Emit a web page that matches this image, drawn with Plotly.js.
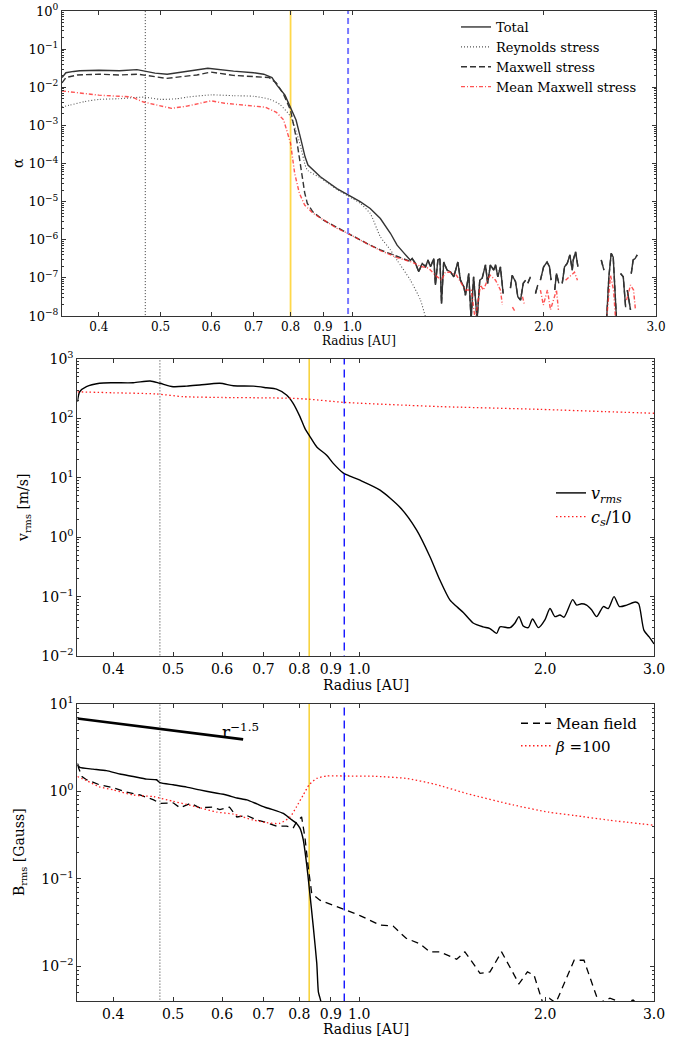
<!DOCTYPE html>
<html>
<head>
<meta charset="utf-8">
<script src="https://cdn.plot.ly/plotly-3.0.1.min.js"></script>
<style>
  html, body { margin: 0; padding: 0; background: #fff; }
  #chart { width: 696px; height: 1041px; }
</style>
</head>
<body>
<div id="chart"></div>
<script>
// ---------------- Panel 1: stress-to-pressure ratio alpha ----------------
const alphaTotalR = [0.350,0.352,0.355,0.365,0.373,0.400,0.431,0.459,0.473,0.490,0.512,0.542,0.565,0.593,0.615,0.651,0.700,0.726,0.748,0.762,0.784,0.800,0.816,0.831,0.843,0.852,0.891,0.946,0.985,1.029,1.067,1.107,1.148,1.176,1.204,1.234];
const alphaTotal  = [0.018,0.0205,0.024,0.026,0.027,0.0279,0.027,0.029,0.0258,0.0235,0.022,0.0258,0.028,0.0315,0.029,0.0265,0.024,0.022,0.018,0.0112,0.0062,0.00306,0.00138,4.1e-4,1.5e-4,9.1e-5,4.5e-5,2.2e-5,1.48e-5,1.0e-5,6.6e-6,3.6e-6,1.48e-6,7.2e-7,4.6e-7,2.9e-7];

// turbulent outer zone (gaps where the stress is not positive)
const alphaNoiseR = [1.242,1.257,1.272,1.288,1.304,1.315,1.327,1.343,1.351,1.363,1.373,1.381,1.392,1.409,1.426,1.444,1.465,1.479,1.497,1.506,1.524,1.537,1.551,1.571,1.586,1.600,1.619,1.632,1.648,1.668,1.679,1.693,1.709,1.726,1.750,1.772,1.783,1.805,1.820,1.838,1.856,1.872,1.880,1.887,1.905,1.920,1.940,1.956,1.965,1.975,1.998,2.023,2.041,2.053,2.065,2.080,2.093,2.111,2.125,2.137,2.155,2.176,2.197,2.216,2.224,2.243,2.262,2.360,2.461,2.485,2.500,2.509,2.530,2.551,2.570,2.591,2.601,2.620,2.639,2.665,2.688,2.695,2.704,2.720,2.736,2.740,2.743,2.762,2.782,2.803];
const alphaNoise  = [3.2e-7,2.4e-7,1.45e-7,2.4e-7,1.95e-7,2.95e-7,1.95e-7,3.2e-7,6.5e-8,2.95e-7,3.2e-7,2.1e-8,2.6e-7,1.6e-7,1.45e-7,1.07e-7,2.6e-7,8.7e-8,5.9e-8,3.5e-8,1.3e-7,8e-9,1.07e-7,8e-9,8.7e-8,9.8e-8,2.2e-7,7.2e-8,2.2e-7,1.6e-7,2.2e-7,1.07e-7,1.95e-7,3.9e-8,null,5.4e-8,1.17e-7,7.9e-8,3.2e-8,2.6e-8,7.2e-8,8.7e-8,null,7.2e-8,1.07e-7,null,3.9e-8,6.5e-8,null,8.7e-8,1.95e-7,2.6e-7,1.95e-7,8.7e-8,null,4.8e-8,1.3e-7,7.2e-8,null,7.2e-8,1.95e-7,2.4e-7,4e-7,1.6e-7,2.95e-7,4.8e-7,1.95e-7,null,2.95e-7,1.6e-7,null,8e-9,1.07e-7,4.4e-7,3.5e-7,2.6e-8,8e-9,null,1.3e-7,1.07e-7,1.7e-8,null,4.8e-8,2.6e-8,1.45e-8,null,1.3e-7,2.95e-7,3.2e-7,4e-7];

const alphaReynoldsR = [0.350,0.360,0.380,0.400,0.430,0.470,0.500,0.530,0.550,0.600,0.650,0.700,0.743,0.770,0.800,0.827,0.845,0.852,0.891,0.946,0.985,1.029,1.067,1.107,1.148,1.176,1.234,1.280,1.303,1.320];
const alphaReynolds  = [0.0030,0.0034,0.0042,0.0048,0.0050,0.0055,0.0048,0.0050,0.0055,0.0063,0.0060,0.0058,0.0048,0.0035,0.0017,3.4e-4,8.2e-5,6.5e-5,4.2e-5,2.1e-5,1.4e-5,9e-6,4.9e-6,1.2e-6,5.4e-7,2.9e-7,8.7e-8,2.6e-8,9.5e-9,5e-9];

const alphaMaxwellR = [0.350,0.355,0.370,0.400,0.430,0.460,0.490,0.510,0.540,0.570,0.600,0.630,0.650,0.700,0.740,0.760,0.780,0.800,0.818,0.830,0.842,0.850,0.867,0.900,0.946,0.985,1.067,1.107,1.176,1.234];
const alphaMaxwell  = [0.013,0.018,0.021,0.022,0.021,0.022,0.019,0.017,0.019,0.021,0.025,0.022,0.0205,0.019,0.018,0.013,0.0065,0.0025,4.1e-4,8.2e-5,1.7e-5,9e-6,5.4e-6,3.3e-6,2.1e-6,1.48e-6,7.2e-7,5.4e-7,3.6e-7,2.7e-7];

const alphaMeanR = [0.350,0.370,0.400,0.430,0.450,0.470,0.490,0.520,0.550,0.600,0.630,0.670,0.730,0.760,0.780,0.800,0.812,0.826,0.842,0.867,0.900,0.946,0.985,1.067,1.107,1.176,1.234,1.241,1.280,1.318,1.351,1.381,1.400,1.426,1.458,1.479,1.506,1.538,1.560,1.590,1.607,1.635,1.648,1.679,1.709,1.721,1.760,1.785,1.805,1.830,1.851,1.865,1.900,1.975,1.996,2.026,2.048,2.070,2.093,2.108,2.140,2.163,2.202,2.234,2.258,2.400,2.509,2.545,2.573,2.592,2.650,2.697,2.736,2.766,2.785];
const alphaMean  = [0.0080,0.0072,0.0062,0.0058,0.0056,0.0041,0.0035,0.0028,0.0032,0.0044,0.0038,0.0034,0.0030,0.0022,0.0014,3.4e-4,5.5e-5,1.65e-5,8.1e-6,5e-6,3.3e-6,2.0e-6,1.45e-6,7e-7,5.2e-7,3.4e-7,2.6e-7,2.6e-7,2.0e-7,1.8e-7,1.17e-7,8.7e-8,1.4e-7,1.4e-7,1.17e-7,7.8e-8,4.8e-8,4.8e-8,8e-9,6.5e-8,4.8e-8,9.8e-8,1.17e-7,8.7e-8,4.8e-8,1.95e-8,null,1.7e-8,1.26e-8,null,3.2e-8,1.95e-8,null,4.8e-8,1.95e-8,4.8e-8,1.45e-8,2.6e-8,4.8e-8,1.45e-8,null,8.7e-8,1.17e-7,1.4e-7,8.7e-8,null,8e-9,1.17e-7,4.8e-8,8e-9,null,2.6e-8,6.5e-8,4.8e-8,1.45e-8];

// ---------------- Panel 2: rms velocity and sound speed ----------------
const vR   = [0.350,0.353,0.362,0.380,0.400,0.431,0.459,0.476,0.500,0.526,0.552,0.595,0.626,0.674,0.708,0.735,0.763,0.782,0.802,0.817,0.833,0.854,0.886,0.908,0.943,0.966,1.003,1.081,1.164,1.239,1.302,1.351,1.403,1.438,1.474,1.529,1.586,1.628,1.669,1.690,1.754,1.787,1.814,1.843,1.878,1.908,1.950,1.999,2.036,2.074,2.113,2.145,2.216,2.249,2.291,2.334,2.377,2.423,2.484,2.530,2.585,2.637,2.710,2.798,2.833,2.890,2.946,3.000];
const vRms = [190,281,342,390,398,398,427,390,342,350,365,390,355,350,328,310,247,179,107,68,49,33,24,17.5,12,10.7,9.1,6.2,3.2,1.32,0.47,0.19,0.087,0.068,0.054,0.036,0.031,0.029,0.024,0.031,0.030,0.036,0.046,0.032,0.030,0.042,0.030,0.041,0.063,0.046,0.049,0.045,0.089,0.072,0.076,0.072,0.060,0.046,0.068,0.063,0.100,0.068,0.072,0.081,0.076,0.027,0.021,0.016];
const csR  = [0.350,0.400,0.470,0.520,0.600,0.700,0.780,0.830,0.946,1.200,1.351,1.962,2.500,3.000];
const cs10 = [280,270,258,232,225,222,218,210,186,166,158,142,130,122];

// ---------------- Panel 3: rms field, mean field and beta=100 field ----------------
const bR   = [0.350,0.353,0.371,0.390,0.410,0.431,0.453,0.470,0.476,0.500,0.526,0.552,0.580,0.610,0.634,0.658,0.683,0.708,0.735,0.754,0.773,0.792,0.802,0.812,0.822,0.830,0.843,0.854,0.859,0.866,0.874];
const bRms = [2.09,1.88,1.80,1.73,1.58,1.48,1.38,1.36,1.26,1.19,1.12,1.04,0.97,0.91,0.84,0.80,0.72,0.65,0.60,0.56,0.49,0.43,0.38,0.28,0.15,0.081,0.028,0.0107,0.0051,0.0041,0.003];
const meanR = [0.350,0.356,0.362,0.380,0.400,0.420,0.442,0.465,0.476,0.500,0.513,0.534,0.552,0.580,0.595,0.617,0.634,0.658,0.683,0.708,0.735,0.763,0.782,0.792,0.807,0.817,0.827,0.838,0.864,0.908,0.946,1.003,1.081,1.135,1.190,1.254,1.302,1.351,1.438,1.483,1.569,1.628,1.700,1.814,1.872,1.919,1.982,2.031,2.081,2.228,2.311,2.443,2.546,2.676,2.775,2.850];
const meanB = [2.0,1.48,1.36,1.19,1.10,0.98,0.91,0.80,0.73,0.74,0.65,0.73,0.65,0.66,0.62,0.66,0.51,0.53,0.47,0.44,0.40,0.40,0.38,0.45,0.51,0.30,0.138,0.068,0.057,0.050,0.044,0.038,0.0295,0.0288,0.021,0.018,0.0146,0.0146,0.012,0.0146,0.0083,0.0086,0.0146,0.0063,0.0086,0.0079,0.0038,0.0043,0.0038,0.0117,0.0117,0.0038,0.0043,0.0038,0.0041,0.0035];
const betaR = [0.350,0.362,0.380,0.400,0.431,0.465,0.500,0.526,0.552,0.588,0.626,0.674,0.708,0.743,0.773,0.792,0.812,0.830,0.854,0.886,0.946,1.056,1.190,1.325,1.493,1.775,2.025,2.228,2.530,3.000];
const betaB = [1.48,1.33,1.13,1.04,0.91,0.87,0.77,0.71,0.65,0.58,0.55,0.47,0.44,0.43,0.51,0.67,0.91,1.19,1.41,1.50,1.50,1.49,1.41,1.21,0.946,0.70,0.58,0.53,0.47,0.41];
const slopeR = [0.350,0.649];
const slopeB = [6.84,3.94];

// marked radii: dotted, yellow and blue reference lines
const marksTop = {dotted: 0.473, yellow: 0.800, blue: 0.985};
const marksLow = {dotted: 0.476, yellow: 0.830, blue: 0.946};

// axis tick labels
const xTickVals = [0.4,0.5,0.6,0.7,0.8,0.9,1.0,2.0,3.0];
const xTickText = ['0.4','0.5','0.6','0.7','0.8','0.9','1.0','2.0','3.0'];
const alphaExps = [-8,-7,-6,-5,-4,-3,-2,-1,0];
const vExps = [-2,-1,0,1,2,3];
const bExps = [-2,-1,0,1];

// ---------------- layout helpers ----------------
const W = 696, H = 1041;
const FONT = 'DejaVu Serif, serif';
const px = v => v / W;
const py = v => 1 - v / H;
const powText = e => '10<sup>' + (e < 0 ? '\u2212' + (-e) : e) + '</sup>';
function minorVals(lo, hi) {
  const out = [];
  for (let e = lo; e < hi; e++) for (let m = 2; m <= 9; m++) out.push(m * Math.pow(10, e));
  return out;
}
const xRange = [Math.log10(0.35), Math.log10(3.0)];

function xAxis(dom, anchor, size) {
  return {
    type: 'log', domain: dom, anchor: anchor, range: xRange,
    tickmode: 'array', tickvals: xTickVals, ticktext: xTickText,
    ticks: 'inside', ticklen: 4, tickcolor: '#333', tickwidth: 1,
    showline: true, linecolor: '#333', linewidth: 1, mirror: 'allticks',
    showgrid: false, zeroline: false,
    tickfont: {family: FONT, size: size, color: '#000'}
  };
}
function yAxis(dom, anchor, exps, range, size) {
  return {
    type: 'log', domain: dom, anchor: anchor, range: range,
    tickmode: 'array', tickvals: exps.map(e => Math.pow(10, e)), ticktext: exps.map(powText),
    ticks: 'inside', ticklen: 4, tickcolor: '#333', tickwidth: 1,
    minor: {tickmode: 'array', tickvals: minorVals(exps[0] - 1, exps[exps.length - 1] + 1), ticks: 'inside', ticklen: 2, tickcolor: '#333'},
    showline: true, linecolor: '#333', linewidth: 1, mirror: 'allticks',
    showgrid: false, zeroline: false,
    tickfont: {family: FONT, size: size, color: '#000'}
  };
}
// a vertical marker line spanning the whole panel height
function vline(r, xa, ya, yspan, color, width, dash) {
  return {x: [r, r], y: yspan, xaxis: xa, yaxis: ya, mode: 'lines', showlegend: false, hoverinfo: 'skip',
          line: {color: color, width: width, dash: dash}};
}
const span1 = [1e-9, 10], span2 = [1e-3, 1e4], span3 = [1e-3, 100];

const traces = [
  vline(marksTop.dotted, 'x', 'y', span1, '#333', 1, '1px,2px'),
  vline(marksTop.yellow, 'x', 'y', span1, '#ffd84a', 1.8, 'solid'),
  vline(marksLow.dotted, 'x2', 'y2', span2, '#333', 1, '1px,2px'),
  vline(marksLow.yellow, 'x2', 'y2', span2, '#f5c400', 1.2, 'solid'),
  vline(marksLow.dotted, 'x3', 'y3', span3, '#333', 1, '1px,2px'),
  vline(marksLow.yellow, 'x3', 'y3', span3, '#f5c400', 1.2, 'solid'),
  // panel 1
  {x: alphaTotalR.concat(alphaNoiseR), y: alphaTotal.concat(alphaNoise), name: 'Total', legend: 'legend',
   mode: 'lines', line: {color: '#333333', width: 1.4}, xaxis: 'x', yaxis: 'y', connectgaps: false},
  {x: alphaReynoldsR, y: alphaReynolds, name: 'Reynolds stress', legend: 'legend',
   mode: 'lines', line: {color: '#555555', width: 1.1, dash: '1px,2px', shape: 'spline', smoothing: 0.6}, xaxis: 'x', yaxis: 'y'},
  {x: alphaMaxwellR.concat(alphaNoiseR), y: alphaMaxwell.concat(alphaNoise), name: 'Maxwell stress', legend: 'legend',
   mode: 'lines', line: {color: '#333333', width: 1.4, dash: '6px,3px'}, xaxis: 'x', yaxis: 'y', connectgaps: false},
  {x: alphaMeanR, y: alphaMean, name: 'Mean Maxwell stress', legend: 'legend',
   mode: 'lines', line: {color: 'rgba(255,40,40,0.8)', width: 1.4, dash: '4px,2px,1px,2px'}, xaxis: 'x', yaxis: 'y', connectgaps: false},
  // panel 2
  {x: vR, y: vRms, name: '<i>v</i><sub><i>rms</i></sub>', legend: 'legend2',
   mode: 'lines', line: {color: '#000', width: 1.4, shape: 'spline', smoothing: 0.7}, xaxis: 'x2', yaxis: 'y2'},
  {x: csR, y: cs10, name: '<i>c</i><sub><i>s</i></sub>/10', legend: 'legend2',
   mode: 'lines', line: {color: '#ff2020', width: 1.3, dash: '1.5px,2.5px', shape: 'spline', smoothing: 0.6}, xaxis: 'x2', yaxis: 'y2'},
  // panel 3
  {x: slopeR, y: slopeB, showlegend: false,
   mode: 'lines', line: {color: '#000', width: 2.6}, xaxis: 'x3', yaxis: 'y3'},
  {x: bR, y: bRms, showlegend: false,
   mode: 'lines', line: {color: '#000', width: 1.4, shape: 'spline', smoothing: 0.5}, xaxis: 'x3', yaxis: 'y3'},
  {x: meanR, y: meanB, name: 'Mean field', legend: 'legend3',
   mode: 'lines', line: {color: '#000', width: 1.3, dash: '7px,5px'}, xaxis: 'x3', yaxis: 'y3'},
  {x: betaR, y: betaB, name: '<i>β</i> =100', legend: 'legend3',
   mode: 'lines', line: {color: '#ff2020', width: 1.3, dash: '1.5px,2.5px', shape: 'spline', smoothing: 0.6}, xaxis: 'x3', yaxis: 'y3'},
  // blue markers drawn over the curves
  vline(marksTop.blue, 'x', 'y', span1, '#7878ff', 2, '6px,4px'),
  vline(marksLow.blue, 'x2', 'y2', span2, '#0000ff', 1.3, '8px,5px'),
  vline(marksLow.blue, 'x3', 'y3', span3, '#0000ff', 1.3, '8px,5px')
];

function label(text, x, y, size, angle) {
  return {text: text, xref: 'paper', yref: 'paper', x: px(x), y: py(y), xanchor: 'center', yanchor: 'middle',
          showarrow: false, textangle: angle || 0, font: {family: FONT, size: size, color: '#000'}};
}

const annotations = [
  label('Radius [AU]', 359, 341, 12),
  label('Radius [AU]', 366, 685, 14),
  label('Radius [AU]', 366, 1029, 14),
  label('α', 18, 163, 14, -90),
  label('v<sub>rms</sub> [m/s]', 24, 508, 14, -90),
  label('B<sub>rms</sub> [Gauss]', 20, 852, 14, -90),
  {text: 'r<sup>\u22121.5</sup>', xref: 'paper', yref: 'paper', x: px(220), y: py(731), xanchor: 'left', yanchor: 'middle',
   showarrow: false, font: {family: FONT, size: 17, color: '#000'}}
];

function legendBox(x, y, size) {
  return {x: px(x), y: py(y), xanchor: 'left', yanchor: 'top', bgcolor: 'rgba(0,0,0,0)', borderwidth: 0,
          font: {family: FONT, size: size, color: '#000'}, tracegroupgap: 0, itemwidth: 30};
}

const layout = {
  width: W, height: H,
  margin: {l: 0, r: 0, t: 0, b: 0},
  paper_bgcolor: '#fff', plot_bgcolor: '#fff',
  showlegend: true,
  xaxis:  xAxis([px(62), px(656)], 'y', 12),
  yaxis:  yAxis([py(316), py(11)], 'x', alphaExps, [-8, 0], 13),
  xaxis2: xAxis([px(77.4), px(654)], 'y2', 14),
  yaxis2: yAxis([py(656), py(359)], 'x2', vExps, [-2, 3], 14),
  xaxis3: xAxis([px(77.4), px(654)], 'y3', 14),
  yaxis3: yAxis([py(1001), py(704)], 'x3', bExps, [Math.log10(0.004), 1], 14),
  legend:  legendBox(456, 12, 13),
  legend2: legendBox(551, 476, 16),
  legend3: legendBox(516, 707, 15),
  annotations: annotations
};

Plotly.newPlot('chart', traces, layout, {displayModeBar: false, staticPlot: true});
</script>
</body>
</html>
